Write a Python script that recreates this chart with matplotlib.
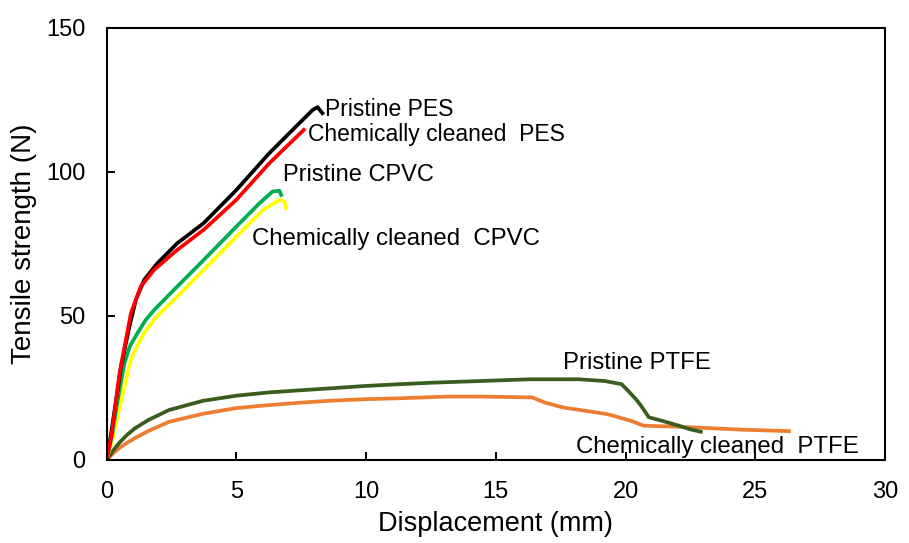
import matplotlib
matplotlib.use("Agg")
import matplotlib.pyplot as plt

plt.rcParams['font.family'] = ['Liberation Sans', 'DejaVu Sans']

# Tensile test curves: displacement (mm) vs tensile strength (N)
pes_x = [0, 0.18, 0.56, 0.88, 1.13, 1.45, 1.96, 2.72, 3.74, 5.0, 6.27, 7.17, 7.94, 8.13, 8.32]
pes_y = [0, 9.3, 32.4, 46.3, 55.6, 62.5, 68.3, 75.2, 82.2, 93.7, 106.5, 114.6, 121.5, 122.5, 120.4]

cc_pes_x = [0, 0.2, 0.5, 0.94, 1.32, 1.83, 2.72, 3.74, 5.0, 6.27, 7.6]
cc_pes_y = [0, 9, 30, 50.9, 60.2, 66, 72.9, 79.9, 90.3, 103, 114.6]

cpvc_x = [0, 0.2, 0.43, 0.69, 0.9, 1.19, 1.5, 1.83, 2.47, 3.74, 5.0, 5.89, 6.4, 6.66, 6.73]
cpvc_y = [0, 8, 20.8, 33.6, 39.5, 44, 48.5, 52, 57.9, 69.4, 81, 89.1, 93.2, 93.5, 92]

cc_cpvc_x = [0, 0.25, 0.56, 0.94, 1.2, 1.45, 1.9, 2.47, 3.74, 5.0, 6.03, 6.66, 6.86, 6.92]
cc_cpvc_y = [0, 8, 20.8, 34.7, 40, 44, 49.5, 54.4, 66, 77.5, 86.8, 90.3, 89.7, 87.4]

ptfe_x = [0, 0.25, 0.5, 0.8, 1.1, 1.6, 2.4, 3.7, 5.0, 6.2, 7.5, 8.7, 10.0, 11.3, 12.5, 14.4,
          16.3, 18.2, 19.2, 19.85, 20.1, 20.4, 20.6, 20.9, 21.4, 22.05, 22.5, 22.9]
ptfe_y = [0, 3.2, 6.0, 8.8, 11.0, 13.8, 17.3, 20.5, 22.3, 23.4, 24.2, 24.9, 25.7, 26.3, 26.8, 27.4,
          28.0, 28.0, 27.4, 26.3, 24.0, 21.1, 18.8, 14.8, 13.6, 11.9, 10.6, 9.8]

cc_ptfe_x = [0, 0.25, 0.5, 0.8, 1.1, 1.6, 2.4, 3.7, 5.0, 6.2, 7.5, 8.7, 10.0, 11.3, 13.1, 14.4,
             16.4, 16.9, 17.6, 18.5, 19.3, 20.2, 20.7, 22.1, 24.5, 26.3]
cc_ptfe_y = [0, 2.2, 4.2, 6.0, 7.6, 10.0, 13.2, 16.0, 18.0, 19.0, 19.9, 20.6, 21.1, 21.4, 22.0, 22.0,
             21.7, 19.9, 18.2, 17.0, 15.9, 13.6, 11.9, 11.5, 10.5, 10.0]

fig = plt.figure(figsize=(9.09, 5.43), dpi=100)
ax = fig.add_axes([0.1172, 0.153, 0.8564, 0.7955])

lw = 2.7
ax.plot(cc_ptfe_x, cc_ptfe_y, color='#ED7D31', lw=lw)
ax.plot(ptfe_x, ptfe_y, color='#385D1E', lw=lw)
ax.plot(cc_cpvc_x, cc_cpvc_y, color='#FFFF00', lw=lw)
ax.plot(cpvc_x, cpvc_y, color='#00B050', lw=lw)
ax.plot(pes_x, pes_y, color='black', lw=lw)
ax.plot(cc_pes_x, cc_pes_y, color='#FF0000', lw=lw)

# curve labels placed next to each line end
ax.text(8.4, 121.8, 'Pristine PES', fontsize=16.5, va='center')
ax.text(7.75, 113, 'Chemically cleaned  PES', fontsize=16.5, va='center')
ax.text(6.8, 99, 'Pristine CPVC', fontsize=17, va='center')
ax.text(5.6, 76.7, 'Chemically cleaned  CPVC', fontsize=17.3, va='center')
ax.text(17.6, 33.5, 'Pristine PTFE', fontsize=17.3, va='center')
ax.text(18.1, 4.5, 'Chemically cleaned  PTFE', fontsize=17.3, va='center')

ax.set_xlim(0, 30)
ax.set_ylim(0, 150)
ax.set_xticks(range(0, 31, 5))
ax.set_yticks([0, 50, 100, 150])
ax.tick_params(direction='in', length=6, width=1.4, labelsize=17, pad=15)
for s in ax.spines.values():
    s.set_linewidth(1.5)

ax.set_xlabel('Displacement (mm)', fontsize=19.5, labelpad=6)
ax.set_ylabel('Tensile strength (N)', fontsize=20, labelpad=7)

fig.savefig('out.png', dpi=100)
